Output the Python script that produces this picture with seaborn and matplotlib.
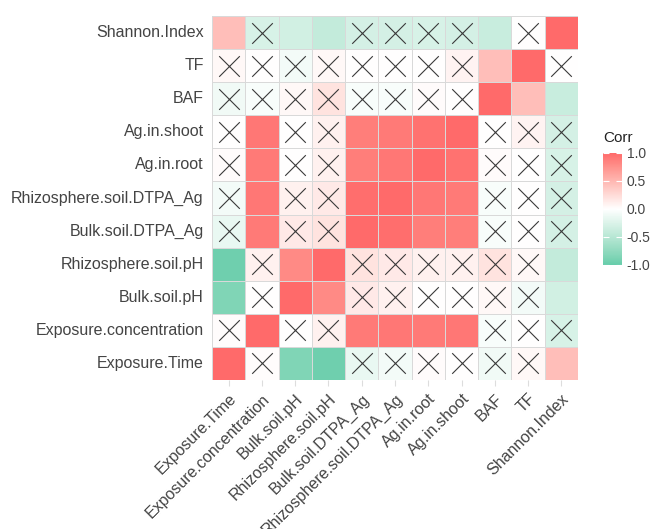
import matplotlib
matplotlib.use("Agg")
import matplotlib.pyplot as plt
import seaborn as sns
import pandas as pd
import numpy as np
from matplotlib.colors import ListedColormap, to_rgb

variables = ["Exposure.Time", "Exposure.concentration", "Bulk.soil.pH",
             "Rhizosphere.soil.pH", "Bulk.soil.DTPA_Ag", "Rhizosphere.soil.DTPA_Ag",
             "Ag.in.root", "Ag.in.shoot", "BAF", "TF", "Shannon.Index"]

# upper triangle correlations, row i vs columns i+1 .. end
upper_rows = [
    [0.02, -0.85, -0.95, -0.15, -0.08, 0.03, 0.00, -0.10, 0.05, 0.45],  # Exposure.Time
    [0.00, 0.10, 0.90, 0.92, 0.90, 0.92, -0.05, 0.00, -0.28],           # Exposure.concentration
    [0.80, 0.15, 0.10, 0.00, 0.00, 0.05, -0.08, -0.32],                  # Bulk.soil.pH
    [0.20, 0.15, 0.10, 0.10, 0.20, 0.05, -0.42],                          # Rhizosphere.soil.pH
    [0.97, 0.88, 0.88, -0.05, 0.00, -0.30],                               # Bulk.soil.DTPA_Ag
    [0.92, 0.90, -0.05, 0.00, -0.30],                                     # Rhizosphere.soil.DTPA_Ag
    [0.95, 0.03, 0.00, -0.28],                                            # Ag.in.root
    [0.00, 0.08, -0.30],                                                  # Ag.in.shoot
    [0.45, -0.38],                                                        # BAF
    [0.00],                                                               # TF
]

# pairs that are significant (drawn without a cross)
significant_pairs = [
    ("Exposure.Time", "Bulk.soil.pH"), ("Exposure.Time", "Rhizosphere.soil.pH"),
    ("Exposure.Time", "Shannon.Index"),
    ("Exposure.concentration", "Bulk.soil.DTPA_Ag"),
    ("Exposure.concentration", "Rhizosphere.soil.DTPA_Ag"),
    ("Exposure.concentration", "Ag.in.root"), ("Exposure.concentration", "Ag.in.shoot"),
    ("Bulk.soil.pH", "Rhizosphere.soil.pH"), ("Bulk.soil.pH", "Shannon.Index"),
    ("Rhizosphere.soil.pH", "Shannon.Index"),
    ("Bulk.soil.DTPA_Ag", "Rhizosphere.soil.DTPA_Ag"), ("Bulk.soil.DTPA_Ag", "Ag.in.root"),
    ("Bulk.soil.DTPA_Ag", "Ag.in.shoot"),
    ("Rhizosphere.soil.DTPA_Ag", "Ag.in.root"), ("Rhizosphere.soil.DTPA_Ag", "Ag.in.shoot"),
    ("Ag.in.root", "Ag.in.shoot"),
    ("BAF", "TF"), ("BAF", "Shannon.Index"),
]

n = len(variables)
corr = np.eye(n)
for i, row in enumerate(upper_rows):
    for k, v in enumerate(row):
        j = i + 1 + k
        corr[i, j] = v
        corr[j, i] = v

sig = np.eye(n, dtype=bool)
for a, b in significant_pairs:
    i, j = variables.index(a), variables.index(b)
    sig[i, j] = sig[j, i] = True

# top row is the last variable
order = variables[::-1]
df = pd.DataFrame(corr, index=variables, columns=variables).loc[order, variables]
sig_df = pd.DataFrame(sig, index=variables, columns=variables).loc[order, variables]


# diverging palette interpolated in CIELAB, like ggplot's gradient2
def rgb_to_lab(rgb):
    rgb = np.asarray(rgb, dtype=float)
    lin = np.where(rgb <= 0.04045, rgb / 12.92, ((rgb + 0.055) / 1.055) ** 2.4)
    m = np.array([[0.4124, 0.3576, 0.1805],
                  [0.2126, 0.7152, 0.0722],
                  [0.0193, 0.1192, 0.9505]])
    xyz = lin @ m.T / np.array([0.95047, 1.0, 1.08883])
    f = np.where(xyz > 0.008856, np.cbrt(xyz), 7.787 * xyz + 16 / 116)
    return np.stack([116 * f[..., 1] - 16, 500 * (f[..., 0] - f[..., 1]),
                     200 * (f[..., 1] - f[..., 2])], axis=-1)


def lab_to_rgb(lab):
    L, a, b = lab[..., 0], lab[..., 1], lab[..., 2]
    fy = (L + 16) / 116
    fx = fy + a / 500
    fz = fy - b / 200
    f = np.stack([fx, fy, fz], axis=-1)
    xyz = np.where(f > 0.2069, f ** 3, (f - 16 / 116) / 7.787) * np.array([0.95047, 1.0, 1.08883])
    m = np.array([[3.2406, -1.5372, -0.4986],
                  [-0.9689, 1.8758, 0.0415],
                  [0.0557, -0.2040, 1.0570]])
    lin = xyz @ m.T
    rgb = np.where(lin <= 0.0031308, 12.92 * lin, 1.055 * np.clip(lin, 0, None) ** (1 / 2.4) - 0.055)
    return np.clip(rgb, 0, 1)


low, mid, high = rgb_to_lab(to_rgb("#66CDAA")), rgb_to_lab(to_rgb("#FFFFFF")), rgb_to_lab(to_rgb("#FF6A6A"))
t = np.linspace(-1, 1, 256)[:, None]
lab = np.where(t < 0, mid + (low - mid) * (-t), mid + (high - mid) * t)
cmap = ListedColormap(lab_to_rgb(lab))

fig = plt.figure(figsize=(6.53, 5.29), dpi=100)
ax = fig.add_axes([212 / 653, 1 - 380 / 529, 366 / 653, 364 / 529])
cax = fig.add_axes([603 / 653, 1 - 265 / 529, 19 / 653, 112 / 529])

sns.heatmap(df, cmap=cmap, vmin=-1, vmax=1, ax=ax, cbar_ax=cax,
            linewidths=0.6, linecolor="#D9D9D9",
            cbar_kws={"ticks": [-1, -0.5, 0, 0.5, 1]})

rows, cols = np.where(~sig_df.values)
ax.scatter(cols + 0.5, rows + 0.5, marker="x", s=220, color="#3a3a3a",
           linewidths=0.8, zorder=3)

ax.set_xlabel("")
ax.set_ylabel("")
ax.set_xticklabels(variables, rotation=45, ha="right", rotation_mode="anchor",
                   fontsize=11.5, color="#444444", family="Liberation Sans")
ax.set_yticklabels(order, rotation=0, fontsize=11.5, color="#444444",
                   family="Liberation Sans")
ax.tick_params(axis="x", length=4, color="#DDDDDD", pad=4)
ax.tick_params(axis="y", length=0, pad=6)

cax.set_yticklabels(["-1.0", "-0.5", "0.0", "0.5", "1.0"], fontsize=10,
                    color="#444444", family="Liberation Sans")
cax.tick_params(axis="y", direction="in", color="white", length=4, left=True, right=True)
for s in cax.spines.values():
    s.set_visible(False)
cax.set_title("Corr", fontsize=11, loc="left", pad=8, family="Liberation Sans",
              color="#222222")

fig.savefig("out.png", dpi=100)
